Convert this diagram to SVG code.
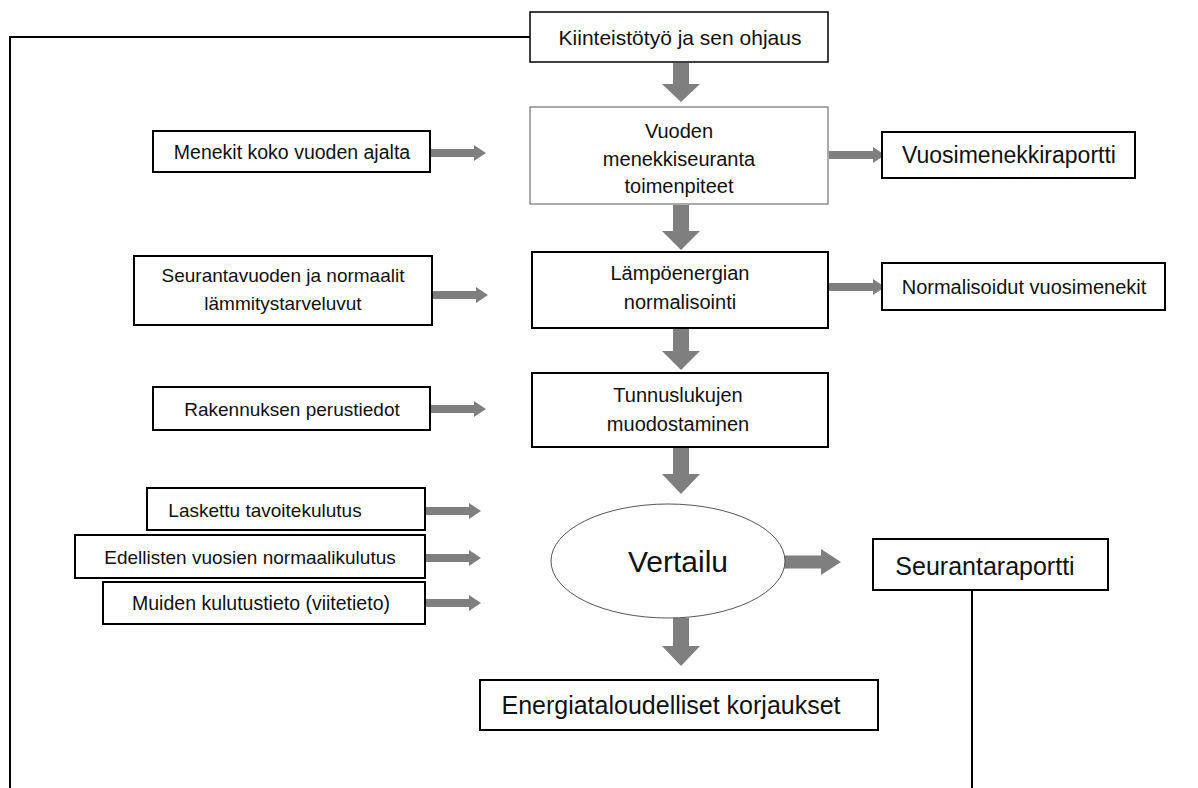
<svg xmlns="http://www.w3.org/2000/svg" width="1198" height="788" viewBox="0 0 1198 788">
<style>
.box{fill:#fff;stroke:#000;stroke-width:2}
.thin{fill:#fff;stroke:#555;stroke-width:1}
.t{font-family:"Liberation Sans",Arial,sans-serif;fill:#111;text-anchor:middle;dominant-baseline:central}
.arr{fill:#7f7f7f}
.ln{fill:none;stroke:#000;stroke-width:2}
</style>
<defs>
<path id="right" d="M0,-4 H44 V-8 L56,0 L44,8 V4 H0 Z"/>
</defs>
<rect width="1198" height="788" fill="#fff"/>
<g id="connectors">
<polyline class="ln" points="530,37 10,37 10,788"/>
<line class="ln" x1="972" y1="590" x2="972" y2="788"/>
<path class="arr" d="M673,63 H689 V84 H700 L681,102 L662,84 H673 Z"/>
<path class="arr" d="M673,205 H689 V231 H700 L681,250 L662,231 H673 Z"/>
<path class="arr" d="M673,329 H689 V351 H700 L681,370 L662,351 H673 Z"/>
<path class="arr" d="M673,448 H689 V474 H700 L681,494 L662,474 H673 Z"/>
<path class="arr" d="M673,618 H689 V646 H700 L681,666 L662,646 H673 Z"/>
<use href="#right" class="arr" x="829" y="155"/>
<use href="#right" class="arr" x="829" y="287"/>
<use href="#right" class="arr" x="430" y="153"/>
<use href="#right" class="arr" x="432" y="295"/>
<use href="#right" class="arr" x="430" y="409"/>
<use href="#right" class="arr" x="425" y="511"/>
<use href="#right" class="arr" x="425" y="558"/>
<use href="#right" class="arr" x="425" y="603"/>
<path class="arr" d="M784,555.5 H821 V549 L841,562 L821,575 V568.5 H784 Z"/>
</g>
<g id="n-kiinteisto">
<rect class="box" x="530" y="12" width="298" height="50" style="stroke-width:1.5"/>
<text class="t" x="680" y="37" font-size="21">Kiinteistötyö ja sen ohjaus</text>
</g>
<g id="n-vuoden">
<rect class="thin" x="530" y="107" width="298" height="97"/>
<text class="t" x="679" y="131" font-size="20">Vuoden</text>
<text class="t" x="679" y="159" font-size="20">menekkiseuranta</text>
<text class="t" x="679" y="186" font-size="20">toimenpiteet</text>
</g>
<g id="n-vuosiraportti">
<rect class="box" x="882" y="132" width="253" height="46"/>
<text class="t" x="1009" y="155" font-size="23">Vuosimenekkiraportti</text>
</g>
<g id="n-menekit">
<rect class="box" x="153" y="131" width="277" height="41"/>
<text class="t" x="292" y="152" font-size="19.5">Menekit koko vuoden ajalta</text>
</g>
<g id="n-lampo">
<rect class="box" x="532" y="252" width="296" height="76"/>
<text class="t" x="680" y="273" font-size="20">Lämpöenergian</text>
<text class="t" x="680" y="302" font-size="20">normalisointi</text>
</g>
<g id="n-normalisoidut">
<rect class="box" x="882" y="263" width="283" height="47"/>
<text class="t" x="1024" y="287" font-size="20">Normalisoidut vuosimenekit</text>
</g>
<g id="n-seurantavuoden">
<rect class="box" x="134" y="256" width="298" height="69"/>
<text class="t" x="283" y="275" font-size="19">Seurantavuoden ja normaalit</text>
<text class="t" x="283" y="303" font-size="19">lämmitystarveluvut</text>
</g>
<g id="n-tunnus">
<rect class="box" x="532" y="373" width="296" height="74"/>
<text class="t" x="678" y="395" font-size="20">Tunnuslukujen</text>
<text class="t" x="678" y="424" font-size="20">muodostaminen</text>
</g>
<g id="n-rakennus">
<rect class="box" x="153" y="387" width="277" height="43"/>
<text class="t" x="292" y="409" font-size="19">Rakennuksen perustiedot</text>
</g>
<g id="n-vertailu">
<ellipse class="thin" cx="668" cy="561" rx="117" ry="57"/>
<text class="t" x="678" y="561" font-size="30">Vertailu</text>
</g>
<g id="n-seurantaraportti">
<rect class="box" x="873" y="539" width="235" height="51"/>
<text class="t" x="985" y="566" font-size="25">Seurantaraportti</text>
</g>
<g id="n-laskettu">
<rect class="box" x="147" y="488" width="278" height="42"/>
<text class="t" x="265" y="510" font-size="19">Laskettu tavoitekulutus</text>
</g>
<g id="n-edellisten">
<rect class="box" x="75" y="535" width="350" height="43"/>
<text class="t" x="250" y="557" font-size="19">Edellisten  vuosien normaalikulutus</text>
</g>
<g id="n-muiden">
<rect class="box" x="103" y="582" width="322" height="42"/>
<text class="t" x="261" y="603" font-size="19.5">Muiden kulutustieto (viitetieto)</text>
</g>
<g id="n-energia">
<rect class="box" x="480" y="680" width="398" height="50"/>
<text class="t" x="671" y="705" font-size="25">Energiataloudelliset korjaukset</text>
</g>
</svg>
